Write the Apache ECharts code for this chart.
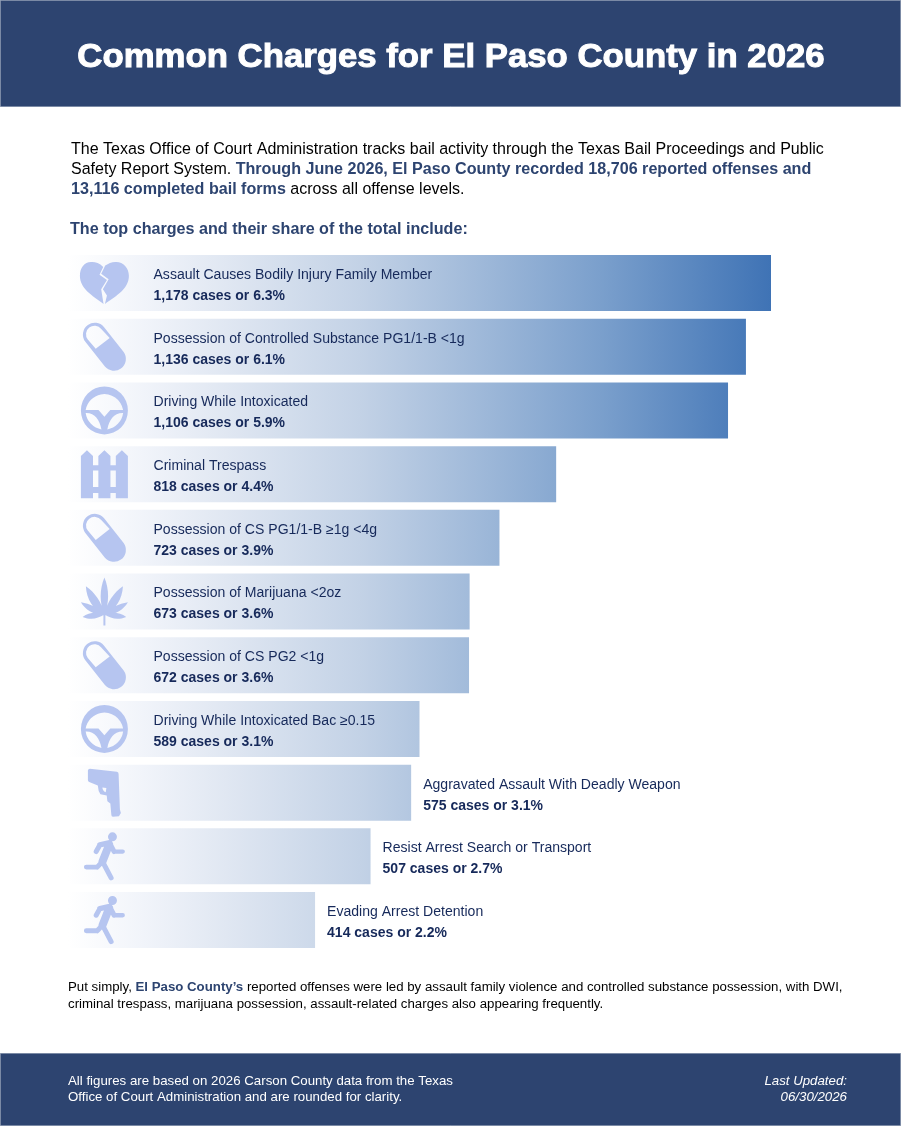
<!DOCTYPE html>
<html><head><meta charset="utf-8">
<style>html,body{margin:0;padding:0;background:#fff}#c{width:901px;height:1126px}</style>
<script src="https://cdn.jsdelivr.net/npm/echarts@6/dist/echarts.min.js"></script>
</head><body><div id="c"></div>
<script>
const charges = ["Assault Causes Bodily Injury Family Member","Possession of Controlled Substance PG1/1-B <1g","Driving While Intoxicated","Criminal Trespass","Possession of CS PG1/1-B ≥1g <4g","Possession of Marijuana <2oz","Possession of CS PG2 <1g","Driving While Intoxicated Bac ≥0.15","Aggravated Assault With Deadly Weapon","Resist Arrest Search or Transport","Evading Arrest Detention"];
const cases = [1178,1136,1106,818,723,673,672,589,575,507,414];
const shares = [6.3,6.1,5.9,4.4,3.9,3.6,3.6,3.1,3.1,2.7,2.2];
const iconKeys = ["heart","pill","wheel","fence","pill","leaf","pill","wheel","gun","run","run"];

function cap(a,b,r){
  const dx=b[0]-a[0],dy=b[1]-a[1],l=Math.hypot(dx,dy),nx=dy/l*r,ny=-dx/l*r;
  return `M${a[0]+nx} ${a[1]+ny}L${b[0]+nx} ${b[1]+ny}A${r} ${r} 0 0 1 ${b[0]-nx} ${b[1]-ny}L${a[0]-nx} ${a[1]-ny}A${r} ${r} 0 0 1 ${a[0]+nx} ${a[1]+ny}Z`;
}
const runner = "M158 217A13.5 13.5 0 1 1 158 244A13.5 13.5 0 1 1 158 217Z"
  + cap([109,275],[120,255],7.5)+cap([120,255],[150,248],8)
  + cap([150,250],[163,275],7.5)+cap([163,275],[189,275],6.5)
  + cap([148,254],[128,305],12)
  + cap([128,305],[112,322],7.5)+cap([112,322],[79.5,322],7.5)
  + cap([128,305],[154,354.5],7.5);
const icons = {
  heart:"M131 52C119 40 105 37 95 38C75 38 62 55 62 78C62 115 98 135 132 160L125 117L142 90L120 75Z"
      +"M137 48C147 42 157 37 170 38C190 38 207 55 207 78C207 115 172 135 136 160L142 135L130 117L147 88L125 72Z",
  pill:"M132.5 231.4L190.5 305.4A35 35 0 0 1 135.5 348.6L77.5 274.6A35 35 0 0 1 132.5 231.4Z"
      +"M124.7 237.6A25 25 0 0 0 85.3 268.4L108.5 296L149.5 264Z",
  wheel:"M134 410A71.5 71.5 0 1 1 134 553A71.5 71.5 0 1 1 134 410Z"
      +"M191 480A58 58 0 0 0 77 480L116 480L134 500L152 480Z"
      +"M77 489A58 58 0 0 0 125 538C120 510 105 488 77 489Z"
      +"M143 538A58 58 0 0 0 191 489C163 488 148 510 143 538Z",
  fence:"M64 618L82 600L100 618L100 746L64 746Z"
      +"M116 618L134 600L152 618L152 746L116 746Z"
      +"M168 618L186 600L204 618L204 746L168 746Z"
      +"M64 646L204 646L204 662L64 662Z"
      +"M64 712L204 712L204 730L64 730Z",
  leaf:"M134 24C149 60 149 100 134 135C119 100 119 60 134 24Z"
      +"M134 135C143 95 162 70 190 50C188 88 168 122 134 135Z"
      +"M134 135C100 122 80 88 78 50C106 70 125 95 134 135Z"
      +"M134 135C152 113 178 103 205 98C191 122 165 137 134 135Z"
      +"M134 135C103 137 77 122 63 98C90 103 116 113 134 135Z"
      +"M134 135C155 126 180 127 200 142C175 152 155 148 134 135Z"
      +"M134 135C113 148 93 152 68 142C88 127 113 126 134 135Z"
      +"M131 135L137 135L137 168L131 168Z",
  gun:"M90 28L172 37Q177 38 177 44L181 150L184 160L178 170L160 171Q155 171 155 165L152 132L143 125L141 108L122 104Q115 95 114 78L88 68Q84 66 84 62L84 33Q85 28 90 28Z"
      +"M128 84Q128 94 138 98L140 86Z",
  run:runner
};
const iconSizes = {heart:[49,42],pill:[43,48],wheel:[47,48],fence:[47,48],leaf:[47,48],gun:[33,48],run:[41,48]};
const iconAnchor = 61;

const chart = echarts.init(document.getElementById('c'),null,{width:901,height:1126});
const navy='#2d4470', ink='#16295a', pale='#b6c5f0';
chart.setOption({
  animation:false,
  backgroundColor:'#fff',
  grid:{left:68,width:703,top:251.2,height:700.7,containLabel:false},
  xAxis:{type:'value',min:0,max:1178,show:false},
  yAxis:{type:'category',data:charges,inverse:true,show:false},
  textStyle:{fontFamily:'Liberation Sans'},
  graphic:[
    {type:'rect',shape:{x:.5,y:.5,width:900,height:106},style:{fill:navy,stroke:'#7b8aa5',lineWidth:1},z:0},
    {type:'text',x:451,y:58,scaleX:1.053,originX:0,originY:0,style:{text:'Common Charges for El Paso County in 2026',fontFamily:'Liberation Sans',fontWeight:'bold',fontSize:33,fill:'#fff',stroke:'#fff',lineWidth:1,align:'center',verticalAlign:'middle'}},
    {type:'text',x:71,y:140,style:{fontFamily:'Liberation Sans',fontSize:16.03,lineHeight:20,fill:'#000',
      text:'The Texas Office of Court Administration tracks bail activity through the Texas Bail Proceedings and Public\nSafety Report System. {b|Through June 2026, El Paso County recorded 18,706 reported offenses and}\n{b|13,116 completed bail forms} across all offense levels.',
      rich:{b:{fontFamily:'Liberation Sans',fontSize:16.12,fontWeight:'bold',fill:navy,lineHeight:20}}}},
    {type:'text',x:70,y:230,style:{text:'The top charges and their share of the total include:',fontFamily:'Liberation Sans',fontSize:16.14,fontWeight:'bold',fill:navy,verticalAlign:'middle'}},
    {type:'text',x:68,y:979,style:{fontFamily:'Liberation Sans',fontSize:13.26,lineHeight:17,fill:'#000',
      text:'Put simply, {b|El Paso County’s} reported offenses were led by assault family violence and controlled substance possession, with DWI,\ncriminal trespass, marijuana possession, assault-related charges also appearing frequently.',
      rich:{b:{fontFamily:'Liberation Sans',fontSize:13.26,fontWeight:'bold',fill:navy,lineHeight:17}}}},
    {type:'rect',shape:{x:.5,y:1053.5,width:900,height:72},style:{fill:navy,stroke:'#7b8aa5',lineWidth:1},z:0},
    {type:'text',x:68,y:1073,style:{fontFamily:'Liberation Sans',fontSize:13.27,lineHeight:16,fill:'#fff',
      text:'All figures are based on 2026 Carson County data from the Texas\nOffice of Court Administration and are rounded for clarity.'}},
    {type:'text',x:847,y:1073,style:{fontFamily:'Liberation Sans',fontSize:13.27,fontStyle:'italic',lineHeight:16,fill:'#fff',align:'right',
      text:'Last Updated:\n06/30/2026'}}
  ],
  series:[
    {type:'bar',barWidth:56,silent:true,
     itemStyle:{color:{type:'linear',x:68,y:0,x2:771,y2:0,global:true,colorStops:[
       {offset:0,color:'#ffffff'},{offset:.107,color:'#f1f4fa'},{offset:.226,color:'#e0e7f2'},{offset:.415,color:'#c3d2e6'},{offset:.76,color:'#7a9fcc'},{offset:1,color:'#3f73b5'}]}},
     data:cases.map((v,i)=>({value:v,label:{position:v>=589?'insideLeft':'right',distance:v>=589?85.5:12}})),
     label:{show:true,color:ink,align:'left',offset:[0,2.5],
       formatter:p=>`{n|${p.name}}\n{v|${p.value.toLocaleString('en-US')} cases or ${shares[p.dataIndex].toFixed(1)}%}`,
       rich:{n:{fontFamily:'Liberation Sans',fontSize:14.05,color:ink,lineHeight:21},
             v:{fontFamily:'Liberation Sans',fontSize:14,fontWeight:'bold',color:ink,lineHeight:21}}}},
    {type:'scatter',silent:true,z:5,itemStyle:{color:pale,opacity:1},
     data:iconKeys.map((k,i)=>({value:[iconAnchor,i],symbol:'path://'+icons[k],symbolSize:iconSizes[k]}))}
  ]
});
</script></body></html>
